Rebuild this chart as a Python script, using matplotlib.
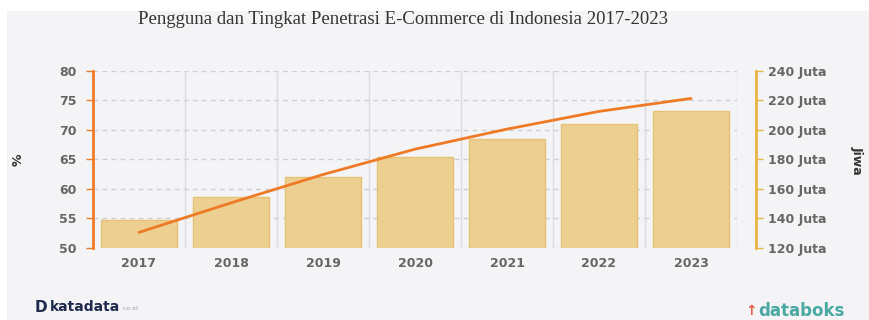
import matplotlib.pyplot as plt
import numpy as np
from matplotlib.patches import Rectangle
from matplotlib.ticker import FuncFormatter

tahun = ['2017', '2018', '2019', '2020', '2021', '2022', '2023']
pengguna = [139.0, 154.1, 168.2, 181.6, 193.4, 203.9, 212.9]   # juta jiwa
penetrasi = [52.6, 57.6, 62.4, 66.7, 70.1, 73.1, 75.3]         # persen

fig = plt.figure(figsize=(8.69, 3.2), dpi=100)
fig.patch.set_facecolor('white')
fig.patches.append(Rectangle((7 / 869, 0), 1, 1 - 11 / 320, transform=fig.transFigure,
                             facecolor='#f4f4f6', edgecolor='none', zorder=-10))

ax = fig.add_axes([93 / 869, 1 - 247.7 / 320, 644 / 869, 177 / 320])
ax2 = ax.twinx()
ax.set_zorder(ax2.get_zorder() + 1)
ax.patch.set_visible(False)
ax2.patch.set_visible(False)

x = np.arange(len(tahun))

# batang pengguna (sumbu kanan)
ax2.bar(x, pengguna, width=0.82, color='#edcf92', edgecolor='#e6c275', linewidth=1, zorder=3)
ax2.set_ylim(120, 240)
ax2.set_yticks(range(120, 241, 20))
ax2.yaxis.set_major_formatter(FuncFormatter(lambda v, p: f'{int(v)} Juta'))

# garis penetrasi (sumbu kiri)
ax.plot(x, penetrasi, color='#ef7a26', linewidth=2, solid_capstyle='round', zorder=5)
ax.set_ylim(50, 80)
ax.set_yticks(range(50, 81, 5))
ax.set_xlim(-0.5, len(tahun) - 0.5)
ax.set_xticks(x)
ax.set_xticklabels(tahun)

# grid
for v in range(50, 81, 5):
    ax2.axhline(120 + (v - 50) * 4, color='#cfcfd3', linewidth=1, linestyle=(0, (3.5, 3)), zorder=1)
for b in np.arange(0.5, len(tahun), 1):
    ax2.axvline(b, color='#dcdce0', linewidth=1, zorder=1)

for a in (ax, ax2):
    for s in a.spines.values():
        s.set_visible(False)

ax.spines['left'].set_visible(True)
ax.spines['left'].set_color('#ef7a26')
ax.spines['left'].set_linewidth(2)
ax2.spines['right'].set_visible(True)
ax2.spines['right'].set_color('#e8b443')
ax2.spines['right'].set_linewidth(2)
ax2.spines['right'].set_position(('outward', 14))

tick_font = dict(labelcolor='#666666', labelsize=9)
ax.tick_params(axis='y', colors='#ef7a26', length=5, width=1, pad=7, **tick_font)
ax.tick_params(axis='x', length=0, pad=7, **tick_font)
ax2.tick_params(axis='y', colors='#e8b443', length=5, width=1, pad=3, **tick_font)
for lab in ax.get_xticklabels() + ax.get_yticklabels() + ax2.get_yticklabels():
    lab.set_fontweight('bold')

fig.text(18 / 869, 1 - 160 / 320, '%', rotation=90, ha='center', va='center',
         fontsize=9, fontweight='bold', color='#333333')
fig.text(857 / 869, 1 - 160 / 320, 'Jiwa', rotation=270, ha='center', va='center',
         fontsize=9, fontweight='bold', color='#333333')

fig.text(403 / 869, 1 - 20 / 320, 'Pengguna dan Tingkat Penetrasi E-Commerce di Indonesia 2017-2023',
         ha='center', va='center', fontsize=13.5, family='Liberation Serif', color='#333333')

# logo teks
fig.text(35 / 869, 1 - 307 / 320, 'D', ha='left', va='center', fontsize=11,
         fontweight='bold', color='#1f2a4d')
fig.text(50 / 869, 1 - 307 / 320, 'katadata', ha='left', va='center', fontsize=10,
         fontweight='bold', color='#1f2a4d')
fig.text(121 / 869, 1 - 309 / 320, '.co.id', ha='left', va='center', fontsize=4.5,
         color='#9aa0b0')
fig.text(751 / 869, 1 - 311 / 320, '\u2191', ha='center', va='center', fontsize=10,
         fontweight='bold', color='#e0604a')
fig.text(758 / 869, 1 - 311 / 320, 'databoks', ha='left', va='center', fontsize=12,
         fontweight='bold', color='#4aa9a2')

fig.savefig('out.png', dpi=100, facecolor=fig.get_facecolor())
